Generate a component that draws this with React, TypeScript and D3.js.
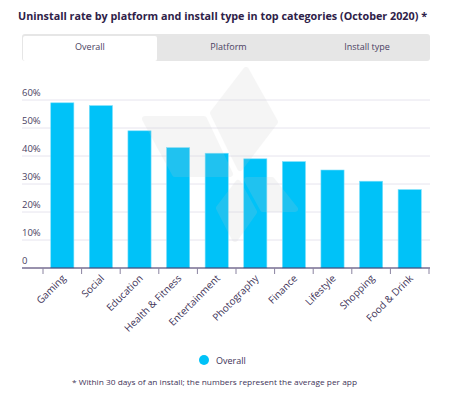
// Uninstall rate bar chart (D3 + React)
import React, { useRef, useEffect } from 'react';
import * as d3 from 'd3';

const CATEGORIES = ['Gaming', 'Social', 'Education', 'Health & Fitness', 'Entertainment',
  'Photography', 'Finance', 'Lifestyle', 'Shopping', 'Food & Drink'];
const OVERALL = [59, 58, 49, 43, 41, 39, 38, 35, 31, 28];
const Y_TICKS = [0, 10, 20, 30, 40, 50, 60];
const TABS = ['Overall', 'Platform', 'Install type'];

const FONT = '"Open Sans", "Noto Sans", sans-serif';
const TEXT = '#2e2148';
const BAR = '#00c2f8';

export default function App() {
  const svgRef = useRef<SVGSVGElement>(null);

  useEffect(() => {
    if (!svgRef.current) return;
    const svg = d3.select(svgRef.current);
    svg.selectAll('*').remove();

    const W = 471, H = 396;
    svg.attr('width', W).attr('height', H).style('font-family', FONT);
    svg.append('rect').attr('width', W).attr('height', H).attr('fill', '#fff');

    // Title
    svg.append('text')
      .attr('x', 18).attr('y', 20)
      .attr('fill', TEXT)
      .style('font-size', '10.5px')
      .style('font-weight', '700')
      .attr('textLength', 409)
      .attr('lengthAdjust', 'spacingAndGlyphs')
      .text('Uninstall rate by platform and install type in top categories (October 2020) *');

    // Tabs
    const tabs = svg.append('g');
    tabs.append('rect').attr('x', 22).attr('y', 34).attr('width', 408).attr('height', 27)
      .attr('rx', 3).attr('fill', '#e6e6e6');
    tabs.append('rect').attr('x', 23).attr('y', 36).attr('width', 134).attr('height', 25)
      .attr('rx', 2).attr('fill', '#fff');
    const tabX = d3.scalePoint<string>().domain(TABS).range([90, 367]);
    tabs.selectAll('text').data(TABS).join('text')
      .attr('x', d => tabX(d)!)
      .attr('y', 50)
      .attr('text-anchor', 'middle')
      .attr('fill', '#4a3f63')
      .style('font-size', '9px')
      .text(d => d);

    const x = d3.scaleBand().domain(CATEGORIES).range([43, 429]).paddingInner(0.4).paddingOuter(0.2);
    const y = d3.scaleLinear().domain([0, 60]).range([268, 100]);

    // Grid lines + y labels
    const grid = svg.append('g');
    grid.selectAll('line').data(Y_TICKS.filter(t => t > 0)).join('line')
      .attr('x1', 22).attr('x2', 430)
      .attr('y1', d => y(d)).attr('y2', d => y(d))
      .attr('stroke', '#e6e4ee').attr('stroke-width', 1);
    grid.selectAll('text').data(Y_TICKS).join('text')
      .attr('x', 22).attr('y', d => y(d) - 4)
      .attr('fill', '#4a3f63')
      .style('font-size', '9.5px')
      .text(d => (d === 0 ? '0' : `${d}%`));

    // Bars
    svg.append('g').selectAll('rect').data(OVERALL).join('rect')
      .attr('x', (_, i) => x(CATEGORIES[i])!)
      .attr('width', x.bandwidth())
      .attr('y', d => y(d))
      .attr('height', d => y(0) - y(d))
      .attr('fill', BAR)
      .attr('stroke', '#7fe0fb').attr('stroke-width', 0.6);

    // Faint watermark drawn over the plot
    const wm = svg.append('g')
      .attr('fill', '#c8c8c8').attr('stroke', '#c8c8c8')
      .attr('stroke-width', 6).attr('stroke-linejoin', 'round')
      .attr('opacity', 0.16);
    wm.append('path').attr('d', 'M246,70 L275,122 L240,168 L213,113 Z');
    wm.append('path').attr('d', 'M145,119 L204,119 L230,174 L175,174 Z');
    wm.append('path').attr('d', 'M238,183 L254,212 L235,239 L219,208 Z');
    wm.append('path').attr('d', 'M247,180 L272,180 L295,209 L263,209 Z');

    // X axis
    const ax = svg.append('g').attr('transform', `translate(0, ${y(0)})`);
    ax.append('line').attr('x1', 22).attr('x2', 430).attr('stroke', '#33255a').attr('stroke-width', 1);
    const edges = CATEGORIES.map(c => x(c)! - x.step() * 0.2).concat([429]);
    ax.selectAll('line.tick').data(edges).join('line').attr('class', 'tick')
      .attr('x1', d => d).attr('x2', d => d).attr('y1', 0).attr('y2', 6)
      .attr('stroke', '#8a83a0').attr('stroke-width', 1);
    ax.selectAll('text').data(CATEGORIES).join('text')
      .attr('transform', d => `translate(${x(d)! + x.bandwidth() / 2 + 4}, 11) rotate(-45)`)
      .attr('text-anchor', 'end')
      .attr('fill', '#3e3358')
      .style('font-size', '10px')
      .text(d => d);

    // Legend
    svg.append('circle').attr('cx', 204).attr('cy', 360).attr('r', 5).attr('fill', BAR);
    svg.append('text').attr('x', 216).attr('y', 363.5)
      .attr('fill', '#3e3358').style('font-size', '9px').text('Overall');

    // Footnote
    svg.append('text').attr('x', 72).attr('y', 385)
      .attr('fill', '#3e3358').style('font-size', '8px')
      .attr('textLength', 285)
      .attr('lengthAdjust', 'spacingAndGlyphs')
      .text('* Within 30 days of an install; the numbers represent the average per app');
  }, []);

  return <svg ref={svgRef} style={{ position: 'absolute', left: 0, top: 0 }} />;
}
